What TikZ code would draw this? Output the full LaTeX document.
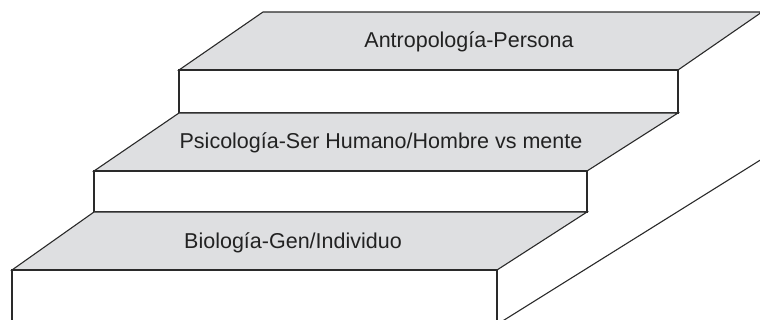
\documentclass[tikz,border=0pt]{standalone}
\usepackage{fontspec}
\setmainfont{Liberation Sans}
\begin{document}
\begin{tikzpicture}[x=1pt,y=-1pt,
  face/.style={fill=stepgray,draw=linecol,line width=1.1pt,line join=miter},
  riser/.style={fill=white,draw=linecol,line width=1.1pt},
  edge/.style={draw=linecol,line width=1.1pt},
  lbl/.style={font=\fontsize{21.5}{25}\selectfont,text=textcol,inner sep=0pt}]
\definecolor{stepgray}{HTML}{DEDFE1}
\definecolor{linecol}{HTML}{2A2A2A}
\definecolor{textcol}{HTML}{222222}
\useasboundingbox (0,0) rectangle (760,320);
% top step
\path[face] (263,12) -- (762,12) -- (678,70) -- (179,70) -- cycle;
\path[riser] (179,70) rectangle (678,113);
% middle step
\path[face] (179,113) -- (678,113) -- (587,171) -- (94,171) -- cycle;
\path[riser] (94,171) rectangle (587,212);
% bottom step
\path[face] (94,212) -- (587,212) -- (497,270) -- (12,270) -- cycle;
\draw[edge] (12,322) -- (12,270) -- (497,270) -- (497,322);
% long side diagonal
\coordinate (d1) at (762,159);
\coordinate (d2) at (501,322);
\draw[edge] (d1) -- (d2);
% labels
\node[lbl] (t1) at (469,42) {Antropología-Persona};
\node[lbl] (t2) at (381,143) {Psicología-Ser Humano/Hombre vs mente};
\node[lbl] (t3) at (293,243) {Biología-Gen/Individuo};
\end{tikzpicture}
\end{document}
